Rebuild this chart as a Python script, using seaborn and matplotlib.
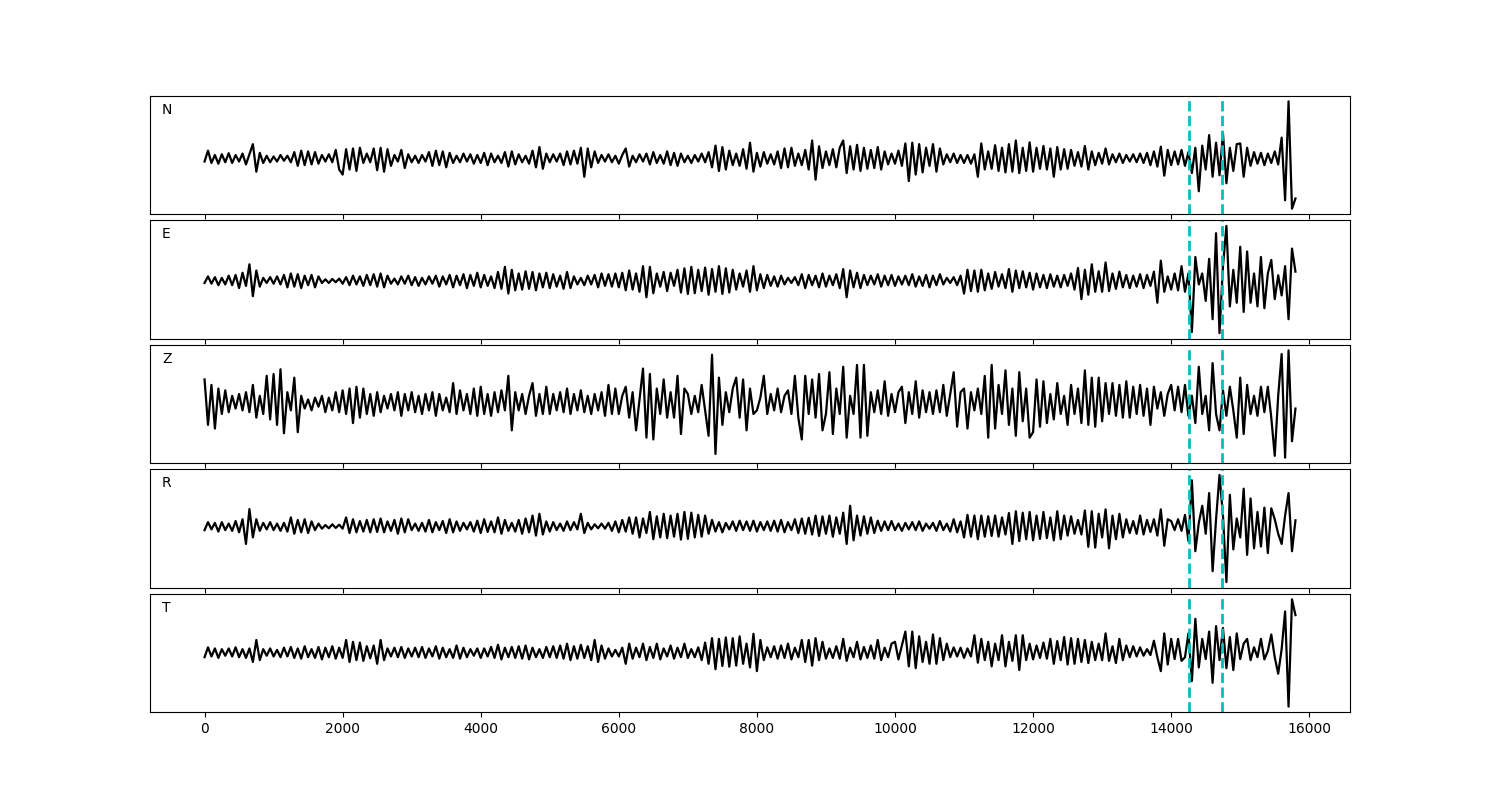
import numpy as np
import seaborn as sns
import matplotlib.pyplot as plt

# three-component record rotated to R/T, values = successive swing extrema
channels = ["N", "E", "Z", "R", "T"]
picks = [14260, 14740]
npts = 15800

N = [
    -8, 22, -12, 10, -14, 12, -10, 15, -12, 10, -8, 14, -16, 12, 40, -36, 16, -12, 8, -10,
    6, -8, 10, -6, 8, -10, 18, -20, 22, -18, 20, -16, 18, -14, 10, -8, 12, -10, 24, -30,
    -44, 26, -30, 28, -34, 30, -12, 14, -10, 28, -32, 30, -36, 26, -20, 10, -8, 24, -26, 12,
    -10, 8, -12, 10, -8, 18, -20, 22, -18, 20, -24, 16, -12, 8, -10, 14, -8, 12, -14, 10,
    -12, 16, -18, 14, -10, 8, -12, 18, -22, 20, -16, 12, -10, 8, -14, 22, -24, 32, -28, 14,
    -10, 12, -8, 14, -18, 20, -16, 22, -14, 30, -50, 28, -24, 20, -12, 10, -8, 12, -10, 8,
    -14, 10, 28, -22, 8, -10, 12, -8, 14, -16, 18, -12, 10, -14, 20, -18, 16, -20, 14, -10,
    8, -12, 10, -8, 14, -10, 18, -24, 36, -34, 32, -30, 22, -18, 14, -20, 26, -28, 44, -36,
    16, -22, 18, -14, 12, -16, 20, -26, 28, -24, 30, -20, 14, -18, 24, -30, 50, -58, 34, -26,
    20, -18, 26, -24, 30, 50, -40, 34, -30, 38, -34, 30, -28, 24, -26, 32, -30, 20, -16, 14,
    -14, 22, -20, 42, -62, 44, -44, 40, -38, 30, -20, 40, -36, 28, -16, 12, -10, 14, -12, 10,
    -12, 10, -14, 12, -50, 42, -30, 20, -28, 37, -34, 30, -38, 40, -36, 50, -40, 30, -34, 45,
    -36, 30, -28, 35, -30, 28, -50, 32, -30, 26, -28, 24, -20, 18, -22, 35, -30, 20, -18, 16,
    -14, 28, -16, 12, -10, 14, -12, 10, -8, 12, -10, 14, -12, 16, -18, 20, -22, 33, -47, 24,
    -18, 20, -16, 24, -20, 18, -40, 30, -90, 36, -30, 65, -50, 44, -46, 70, -68, 30, -34, 40,
    42, -50, 30, -20, 18, -14, 16, -18, 14, -12, 20, -16, 58, -115, 158, -138, -110,
]

E = [
    -6, 12, -8, 10, -12, 8, -10, 14, -12, 16, -20, 22, -14, 45, -42, 28, -16, 8, -6, 10,
    -8, 12, -10, 16, -18, 20, -16, 18, -20, 14, -12, 16, -18, 12, -6, 4, -6, 5, -4, 6,
    -8, 10, -12, 14, -10, 12, -14, 16, -12, 18, -16, 20, -18, 14, -8, 6, -10, 12, -8, 14,
    -12, 10, -14, 8, -10, 12, -8, 14, -16, 12, -10, 16, -18, 14, -12, 18, -20, 16, -14, 22,
    -18, 16, -14, 12, -20, 24, -22, 38, -35, 30, -26, 20, -24, 26, -22, 24, -26, 20, -18, 22,
    -20, 18, -16, 14, -22, 24, -20, 12, -10, 8, -12, 14, -10, 16, -18, 20, -14, 18, -16, 20,
    -18, 22, -26, 28, -24, 20, -30, 40, -45, 38, -34, 20, -16, 24, -28, 22, -14, 30, -32, 34,
    -36, 38, -34, 30, -28, 36, -38, 32, -30, 40, -36, 34, -32, 30, -24, 20, -16, 28, -30, 40,
    -26, 18, -20, 16, -14, 12, -16, 14, -10, 8, -6, 10, -12, 18, -20, 16, -12, 14, -18, 20,
    -16, 14, -12, 18, -20, 32, -45, 28, -18, 22, -20, 16, -12, 14, -10, 18, -16, 14, -12, 16,
    -14, 12, -10, 14, -12, 18, -16, 12, -14, 16, -18, 14, -12, 18, -10, 8, -6, 10, -12, 14,
    -35, 30, -28, 28, -30, 30, -26, 20, -22, 24, -16, 18, -20, 32, -30, 28, -20, 26, -18, 22,
    -24, 20, -18, 16, -20, 18, -16, 14, -18, 16, -14, 20, -24, 35, -50, 30, -38, 45, -30, 26,
    -30, 50, -28, 20, -22, 25, -18, 16, -20, 14, -16, 18, -20, 16, -14, 25, -60, 55, -30, 12,
    -24, 20, -26, 40, -30, 20, -140, 65, -10, 20, -55, 60, -105, 130, -143, 40, 150, -70, 30, -60,
    93, -85, 80, -60, 20, -70, 65, -75, 20, 57, -50, 15, -40, 40, -105, 88, 25,
]

Z = [
    65, -60, 50, -70, 40, -30, 35, -25, 20, -15, 25, -20, 30, -25, 50, -40, 20, -30, 75, -45,
    80, -60, 93, -83, 30, -20, 70, -80, 20, -15, 10, -20, 15, -10, 20, -25, 15, -20, 30, -25,
    35, -30, 40, -55, 45, -40, 40, -30, 25, -35, 30, -25, 20, -15, 25, -20, 30, -35, 25, -20,
    30, -25, 20, -30, 25, -20, 30, -35, 25, -20, 15, -25, 55, -30, 35, -20, 25, -30, 40, -35,
    45, -30, 25, -35, 30, -25, 35, -20, 75, -75, 30, -20, 25, -30, 20, 55, -35, 25, -30, 45,
    -30, 25, -20, 30, -25, 40, -30, 25, -20, 35, -25, 20, -30, 25, -20, 30, -35, 50, -30, 40,
    -30, 20, 45, -40, 30, -75, 10, 95, -95, 80, -100, 40, -30, 65, -40, 30, -40, 75, -85, 40,
    25, -30, 20, -25, 50, -20, -90, 133, -140, 70, -60, 30, -25, 40, 70, -40, 65, -75, 40, -30,
    -20, 15, 75, -30, 25, -20, 40, -25, 20, 35, -30, 75, -40, -100, 75, -30, 65, -40, 80, -75,
    -30, 85, -85, 40, -30, 100, -95, 20, -30, 105, -95, 105, -90, 30, -25, 35, -30, 60, -35, 25,
    -25, 30, 45, -55, 30, -30, 60, -40, 35, -25, 30, -30, 35, -25, 50, -35, 25, 85, -65, 30,
    40, -70, 30, -20, 40, -30, 75, -95, 105, -70, 50, -30, 90, -60, 40, -90, 85, -50, 40, -95,
    -80, 65, -65, 60, -55, 25, -45, 55, -30, 20, -60, 50, -30, 40, -55, 90, -60, 70, -65, 70,
    -50, 55, -30, 55, -35, 50, -40, 60, -40, 45, -30, 50, -35, 40, -60, 45, -15, 30, -35, 25,
    50, -20, 45, -25, 50, -35, 20, -55, 100, -30, 20, -75, 110, -30, -75, 35, -35, 45, -20, -95,
    70, -85, 50, -30, 20, -35, 45, -25, 45, -40, -145, 20, 135, -150, 145, -105, -15,
]

R = [
    -10, 12, -8, 10, -14, 12, -10, 8, -12, 15, -16, 20, -48, 48, -30, 20, -12, 10, -8, 12,
    -10, 8, -12, 10, -14, 25, -20, 18, -16, 20, -18, 14, -10, 8, -6, 4, -5, 6, -4, 5,
    -6, 25, -18, 20, -16, 15, -14, 18, -16, 20, -15, 22, -16, 14, -12, 18, -20, 22, -16, 20,
    -10, 8, -12, 10, -14, 18, -16, 12, -10, 15, -18, 20, -16, 14, -12, 10, -8, 12, -14, 16,
    -18, 20, -15, 14, -16, 25, -20, 18, -12, 10, -14, 18, -20, 22, -16, 30, -25, 35, -22, 14,
    -14, 12, -10, 8, -12, 14, -10, 12, -8, 35, -18, 10, -8, 6, -5, 8, -6, 10, -12, 14,
    -16, 18, -14, 25, -20, 25, -30, 22, -18, 40, -35, 28, -30, 35, -32, 30, -28, 35, -36, 40,
    -34, 38, -30, 32, -28, 30, -20, 18, -14, 12, -16, 10, -8, 14, -12, 16, -10, 14, -12, 16,
    -14, 12, -10, 14, -12, 16, -14, 18, -16, 12, -10, 20, -18, 22, -20, 24, -22, 30, -26, 28,
    -20, 30, -28, 25, -20, 38, -48, 57, -38, 30, -25, 28, -20, 25, -18, 16, -12, 14, -10, 15,
    -10, 8, -12, 10, -8, 12, -10, 14, -12, 8, -6, 10, -12, 15, -10, 8, -14, 20, -16, 14,
    -30, 32, -28, 30, -35, 30, -28, 28, -26, 30, -28, 25, -22, 37, -48, 42, -40, 38, -35, 40,
    -38, 30, -34, 40, -32, 25, -38, 42, -35, 30, -25, 28, -20, 18, -22, 44, -56, 42, -58, 35,
    -30, 47, -60, 30, -35, 35, -30, 20, -18, 15, -20, 30, -22, 18, -15, 20, -25, 47, -53, 20,
    15, -10, 20, -12, 32, -40, 127, -68, 10, 57, -20, 92, -123, 20, 142, 30, -153, 87, -63, 22,
    -30, 104, -78, 77, -60, 40, -55, 52, -73, 50, 20, -20, -48, 30, 92, -68, 17,
]

T = [
    -12, 15, -10, 12, -14, 10, -8, 12, -10, 15, -12, 10, -14, 12, -25, 35, -20, 10, -8, 12,
    -10, 8, -12, 14, -10, 16, -14, 12, -16, 18, -12, 10, -14, 16, -18, 14, -12, 18, -16, 14,
    -14, 35, -25, 30, -20, 28, -22, 18, -15, 20, -30, 35, -20, 12, -10, 14, -12, 16, -14, 12,
    -10, 14, -12, 16, -14, 12, -10, 18, -16, 14, -12, 10, -14, 20, -16, 14, -12, 10, -8, 12,
    -14, 12, -10, 16, -14, 22, -18, 14, -12, 16, -14, 18, -16, 20, -18, 14, -12, 10, -14, 16,
    -12, 18, -14, 20, -16, 25, -20, 18, -16, 22, -14, 18, -20, 35, -25, 20, -16, 12, -10, 8,
    -10, 14, -30, 25, -16, 14, -12, 25, -20, 16, -14, 25, -18, 12, -10, 20, -16, 14, -12, 25,
    -14, 10, -12, 15, -20, 28, -30, 40, -45, 38, -36, 42, -38, 40, -35, 45, -30, 25, -40, 52,
    -50, 35, -20, 15, -12, 18, -16, 20, -14, 25, -18, 14, -12, 35, -25, 35, -35, 40, -20, 30,
    -16, 12, -14, 18, -16, 38, -22, 14, -12, 30, -18, 16, -14, 20, -16, 35, -20, 14, -12, 25,
    30, -18, 20, 58, -37, 58, -42, 45, -25, 30, -30, 50, -30, 40, -20, 25, -12, 15, -10, 14,
    -14, 12, -10, 48, -27, 38, -20, 30, -37, 25, -20, 48, -37, 30, -22, 48, -47, 48, -20, 25,
    -18, 20, -14, 28, -16, 38, -30, 32, -20, 43, -32, 40, -30, 38, -25, 35, -28, 30, -20, 25,
    -20, 53, -22, 18, -28, 38, -20, 20, -12, 18, -10, 15, -8, 10, -6, 33, -12, -50, 53, -32,
    38, -17, 38, -22, -12, 53, -77, 93, -40, 38, -17, 58, -82, 73, -20, 68, -42, 43, -47, 53,
    -17, 25, 38, -20, 15, -12, 38, -18, 5, 50, -12, -57, 10, 113, -147, 146, 103,
]

traces = [N, E, Z, R, T]

fig, axes = plt.subplots(5, 1, figsize=(15, 8), sharex=True)
fig.subplots_adjust(left=0.1, right=0.9, top=0.88, bottom=0.11, hspace=0.055)

for ax, name, tr in zip(axes, channels, traces):
    y = np.array(tr, dtype=float)
    x = np.linspace(0, npts, len(y))
    sns.lineplot(x=x, y=y, ax=ax, color="k", linewidth=1.6)
    for p in picks:
        ax.axvline(p, color="c", linestyle="--", linewidth=2)
    ax.text(0.01, 0.85, name, transform=ax.transAxes, fontsize=10)
    ax.set_yticks([])
    ax.set_ylabel("")

plt.savefig("out.png", dpi=100)
